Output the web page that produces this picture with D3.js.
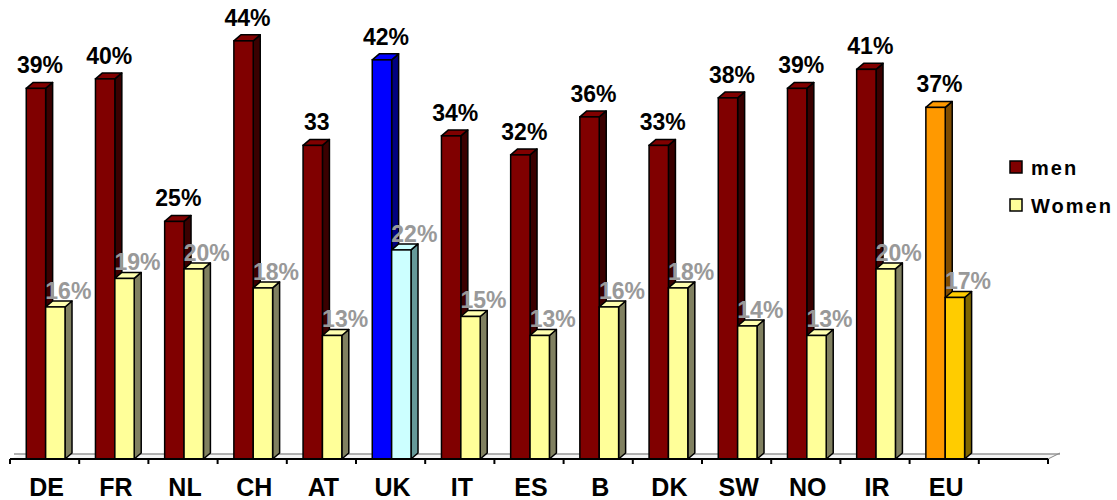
<!DOCTYPE html>
<html>
<head>
<meta charset="utf-8">
<script src="https://cdn.jsdelivr.net/npm/d3@7"></script>
<style>
  body { margin: 0; background: #fff; }
  svg { display: block; font-family: Arial, "Liberation Sans", sans-serif; }
</style>
</head>
<body>
<div id="chart"></div>
<script>
// chart data
var countries = ["DE", "FR", "NL", "CH", "AT", "UK", "IT", "ES", "B", "DK", "SW", "NO", "IR", "EU"];
var menValues = [39, 40, 25, 44, 33, 42, 34, 32, 36, 33, 38, 39, 41, 37];
var womenValues = [16, 19, 20, 18, 13, 22, 15, 13, 16, 18, 14, 13, 20, 17];
var menLabels = ["39%", "40%", "25%", "44%", "33", "42%", "34%", "32%", "36%", "33%", "38%", "39%", "41%", "37%"];
var womenLabels = ["16%", "19%", "20%", "18%", "13%", "22%", "15%", "13%", "16%", "18%", "14%", "13%", "20%", "17%"];
var seriesNames = ["men", "Women"];

// colours: [front, side, top]
var menColor = ["#800000", "#3a0000", "#800000"];
var womenColor = ["#ffff99", "#808060", "#ffffb0"];
var special = {
  UK: { men: ["#0000ff", "#000080", "#0000ff"], women: ["#ccffff", "#669999", "#ccffff"] },
  EU: { men: ["#ff9900", "#7f4c00", "#ff9900"], women: ["#ffcc00", "#7f6600", "#ffcc00"] }
};

var width = 1117, height = 500;
var depthX = 7, depthY = -6;

var svg = d3.select("#chart").append("svg")
  .attr("width", width)
  .attr("height", height);

// 14 countries + one empty slot at the right
var x = d3.scaleBand()
  .domain(d3.range(countries.length + 1))
  .range([10, 1048])
  .padding(0);

var y = d3.scaleLinear()
  .domain([0, 48.3])
  .range([459, 0]);

var step = x.step();
var barW = step * 0.28;
var menOff = step * 0.235;

// floor
var x0 = x.range()[0], x1 = x.range()[1], base = y(0);
svg.append("polygon")
  .attr("points", [[x0, base], [x1, base], [x1 + 12, base - 5], [x0 + 12, base - 5]].join(" "))
  .attr("fill", "#f4f4f4")
  .attr("stroke", "none");
svg.append("line")
  .attr("x1", x0 + 4).attr("x2", x1 + 12)
  .attr("y1", base - 5).attr("y2", base - 5)
  .attr("stroke", "#999").attr("stroke-width", 1.5);
svg.append("line")
  .attr("x1", x1).attr("x2", x1 + 12)
  .attr("y1", base).attr("y2", base - 6)
  .attr("stroke", "#888").attr("stroke-width", 1);

function drawBar(g, bx, v, cols) {
  var top = y(v), bottom = y(0);
  // side
  g.append("polygon")
    .attr("points", [[bx + barW, bottom], [bx + barW + depthX, bottom + depthY],
      [bx + barW + depthX, top + depthY], [bx + barW, top]].join(" "))
    .attr("fill", cols[1]).attr("stroke", "#000").attr("stroke-width", 1.5)
    .attr("stroke-linejoin", "round");
  // top
  g.append("polygon")
    .attr("points", [[bx, top], [bx + depthX, top + depthY],
      [bx + barW + depthX, top + depthY], [bx + barW, top]].join(" "))
    .attr("fill", cols[2]).attr("stroke", "#000").attr("stroke-width", 1.5)
    .attr("stroke-linejoin", "round");
  // front
  g.append("rect")
    .attr("x", bx).attr("y", top)
    .attr("width", barW).attr("height", bottom - top)
    .attr("fill", cols[0]).attr("stroke", "#000").attr("stroke-width", 1.5);
}

var bars = svg.append("g");
countries.forEach(function (c, i) {
  var g = bars.append("g");
  var mc = special[c] ? special[c].men : menColor;
  var wc = special[c] ? special[c].women : womenColor;
  var mx = x(i) + menOff;
  var wx = mx + barW;
  drawBar(g, mx, menValues[i], mc);
  drawBar(g, wx, womenValues[i], wc);
});

// value labels
countries.forEach(function (c, i) {
  var mx = x(i) + menOff;
  var wx = mx + barW;
  svg.append("text")
    .attr("x", mx + barW / 2 + 4)
    .attr("y", y(menValues[i]) - 15)
    .attr("text-anchor", "middle")
    .style("font-size", "23px")
    .style("font-weight", "bold")
    .attr("fill", "#000")
    .text(menLabels[i]);
  svg.append("text")
    .attr("x", wx + barW / 2 + 13)
    .attr("y", y(womenValues[i]) - 8)
    .attr("text-anchor", "middle")
    .style("font-size", "23px")
    .style("font-weight", "bold")
    .attr("fill", "#999")
    .text(womenLabels[i]);
});

// x axis
svg.append("line")
  .attr("x1", x0).attr("x2", x1)
  .attr("y1", base).attr("y2", base)
  .attr("stroke", "#000").attr("stroke-width", 2);
svg.selectAll(".tick")
  .data(d3.range(countries.length + 2))
  .enter().append("line")
  .attr("x1", function (d) { return x0 + d * step; })
  .attr("x2", function (d) { return x0 + d * step; })
  .attr("y1", base).attr("y2", base + 5)
  .attr("stroke", "#000").attr("stroke-width", 2);

svg.selectAll(".xlab")
  .data(countries)
  .enter().append("text")
  .attr("x", function (d, i) { return x(i) + step / 2 + 2; })
  .attr("y", 496)
  .attr("text-anchor", "middle")
  .style("font-size", "25px")
  .style("font-weight", "bold")
  .text(function (d) { return d; });

// legend
var legend = svg.append("g").attr("transform", "translate(1010,161)");
seriesNames.forEach(function (name, i) {
  var row = legend.append("g").attr("transform", "translate(0," + (i * 38) + ")");
  row.append("rect")
    .attr("width", 12).attr("height", 12)
    .attr("fill", i === 0 ? menColor[0] : womenColor[0])
    .attr("stroke", "#000").attr("stroke-width", 1.5);
  row.append("text")
    .attr("x", 21).attr("y", 14)
    .style("font-size", "20px")
    .style("font-weight", "bold")
    .style("letter-spacing", "2px")
    .text(name);
});
</script>
</body>
</html>
